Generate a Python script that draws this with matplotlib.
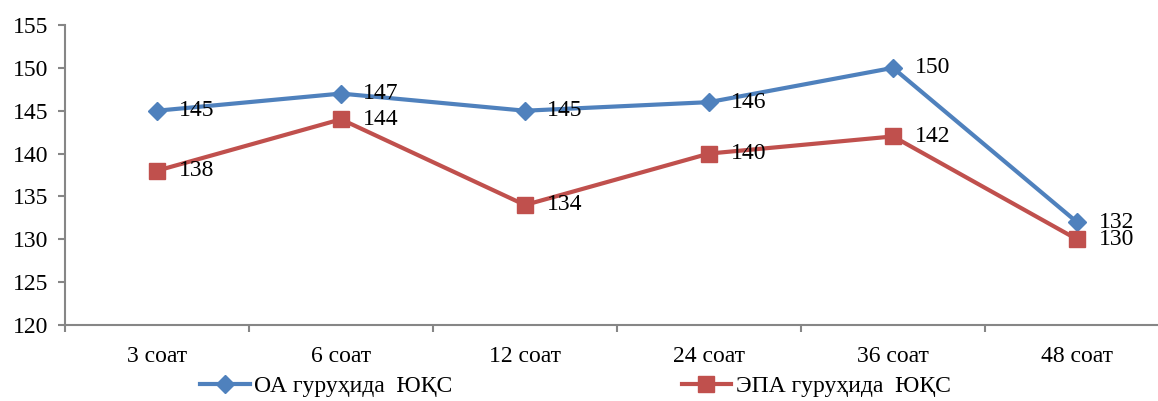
# Line chart: ЮҚС in two groups over time (Excel-like style)
import matplotlib
import numpy as np
from matplotlib import pyplot as plt

matplotlib.rcParams["font.family"] = ["Liberation Serif", "DejaVu Serif"]

categories = ["3 соат", "6 соат", "12 соат", "24 соат", "36 соат", "48 соат"]
oa_values = [145, 147, 145, 146, 150, 132]
epa_values = [138, 144, 134, 140, 142, 130]
oa_label = "ОА гуруҳида  ЮҚС"
epa_label = "ЭПА гуруҳида  ЮҚС"

blue, red, grey = "#4F81BD", "#C0504D", "#868686"
fs = 17

fig = plt.figure(figsize=(11.58, 4.01), dpi=100)
ax = fig.add_axes([65 / 1158, 76 / 401, 1104 / 1158, 300 / 401])

x = np.arange(len(categories))
ax.plot(x, oa_values, color=blue, lw=3, marker="D", ms=9.5, label=oa_label)
ax.plot(x, epa_values, color=red, lw=3, marker="s", ms=11.5, label=epa_label)

for xi, v in zip(x, oa_values):
    ax.annotate(str(v), (xi, v), xytext=(16, 0), textcoords="offset points",
                va="center", ha="left", fontsize=fs)
for xi, v in zip(x, epa_values):
    ax.annotate(str(v), (xi, v), xytext=(16, 0), textcoords="offset points",
                va="center", ha="left", fontsize=fs)

ax.set_ylim(120, 155)
ax.set_yticks(range(120, 156, 5))
ax.set_xlim(-0.5, len(categories) - 0.5)
ax.set_xticks(x)
ax.set_xticklabels(categories)
ax.set_xticks(np.arange(-0.5, len(categories)), minor=True)
ax.tick_params(axis="x", which="major", length=0, pad=15, labelsize=fs)
ax.tick_params(axis="x", which="minor", length=5, color=grey, width=1.5)
ax.tick_params(axis="y", length=5, color=grey, width=1.5, labelsize=fs, pad=7)

for side in ["top", "right"]:
    ax.spines[side].set_visible(False)
for side in ["left", "bottom"]:
    ax.spines[side].set_color(grey)
    ax.spines[side].set_linewidth(1.5)

fig.legend(loc="center left", bbox_to_anchor=(200 / 1158, 15 / 401), ncol=2,
           frameon=False, fontsize=fs, columnspacing=9.7, handlelength=2.1,
           handletextpad=0.2, borderpad=0, borderaxespad=0)

plt.savefig("out.png", dpi=100)
